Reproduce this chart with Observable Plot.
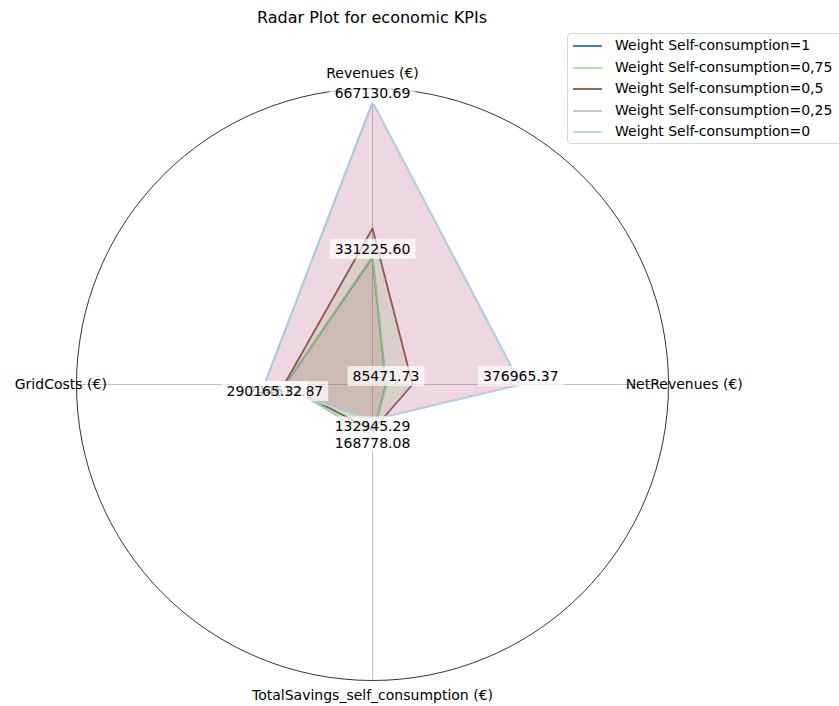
<!DOCTYPE html>
<html>
<head>
<meta charset="utf-8">
<script src="https://cdn.jsdelivr.net/npm/d3@7"></script>
<script src="https://cdn.jsdelivr.net/npm/@observablehq/plot@0.6"></script>
<style>
  body { margin: 0; background: #fff; font-family: "DejaVu Sans", sans-serif; }
  #wrap { position: relative; width: 839px; height: 706px; overflow: hidden; background: #fff; }
  #wrap > svg { position: absolute; left: 0; top: 0; }
  #title { position: absolute; left: 0; width: 744px; top: 8px; text-align: center; font-size: 16px; line-height: 20px; color: #000; }
  #legend { position: absolute; left: 567px; top: 33px; width: 285px; height: 111px; box-sizing: border-box;
            border: 1px solid #d6d6d6; border-radius: 4px; background: rgba(255,255,255,0.8); padding-top: 1px; }
  .row { position: relative; height: 21.5px; font-size: 14px; color: #000; }
  .swatch { position: absolute; left: 5px; top: 9px; }
  .lab { position: absolute; left: 47px; top: 1px; white-space: nowrap; line-height: 18px; }
</style>
</head>
<body>
<div id="wrap">
  <div id="title">Radar Plot for economic KPIs</div>
  <div id="legend"></div>
</div>
<script>
// ---- data ----
const axisNames = ["Revenues (€)", "NetRevenues (€)", "TotalSavings_self_consumption (€)", "GridCosts (€)"];
const seriesNames = [
  "Weight Self-consumption=1",
  "Weight Self-consumption=0,75",
  "Weight Self-consumption=0,5",
  "Weight Self-consumption=0,25",
  "Weight Self-consumption=0"
];
const lineColors = ["#1f77b4", "#90ee90", "#8c564b", "#c0c0c0", "#add8e6"];
const fillColors = ["#1f77b4", "#ff7f0e", "#2ca02c", "#d62728", "#9467bd"];
const revenues    = [331225.60, 333400.00, 393600.00, 667130.69, 667130.69];
const netRevenues = [85471.73,  86400.00,  142900.00, 376965.37, 376965.37];
const savings     = [168778.08, 167500.00, 155800.00, 132945.29, 132945.29];
const gridCosts   = [244612.87, 245100.00, 247300.00, 290165.32, 290165.32];
const table = [revenues, netRevenues, savings, gridCosts];

// ---- layout ----
const W = 839, H = 706, ML = 76, MR = 171, MT = 88, MB = 26;
const R = (W - ML - MR) / 2;

const rows = [];
seriesNames.forEach((s, i) => table.forEach((vals, j) => rows.push({s, i, j, v: vals[i]})));
const all = rows.map(d => d.v);
const lo = d3.min(all), hi = d3.max(all), pad = 0.05 * (hi - lo);
const rad = d3.scaleLinear([lo - pad, hi + pad], [0, 1]);
const ang = j => j * Math.PI / 2;
const px = d => rad(d.v) * Math.sin(ang(d.j));
const py = d => rad(d.v) * Math.cos(ang(d.j));

// min and max annotation per axis
const labels = table.flatMap((vals, j) => [d3.min(vals), d3.max(vals)].map(v => ({j, v})));

const seriesMarks = seriesNames.flatMap((s, i) => {
  const d = rows.filter(r => r.i === i);
  return [
    Plot.line(d, {x: px, y: py, curve: "linear-closed", stroke: lineColors[i], strokeWidth: 1.8}),
    Plot.area(d, {x1: px, y1: py, x2: 0, y2: 0, curve: "linear-closed", fill: fillColors[i], fillOpacity: 0.115})
  ];
});

const labelOpts = (dy) => ({
  x: d => rad(d.v) * Math.sin(ang(d.j)),
  y: d => rad(d.v) * Math.cos(ang(d.j)),
  text: d => d.v.toFixed(2), dy, fontSize: 14, fill: "#000", className: "vlabel"
});

const chart = Plot.plot({
  width: W, height: H,
  marginLeft: ML, marginRight: MR, marginTop: MT, marginBottom: MB,
  x: {domain: [-1, 1], axis: null},
  y: {domain: [-1, 1], axis: null},
  r: {type: "linear", domain: [0, 1], range: [0, R]},
  style: {fontFamily: "DejaVu Sans, sans-serif", fontSize: "14px", background: "transparent", overflow: "visible"},
  marks: [
    Plot.link(axisNames, {x1: 0, y1: 0, x2: (d, j) => Math.sin(ang(j)), y2: (d, j) => Math.cos(ang(j)), stroke: "#b0b0b0", strokeWidth: 0.8}),
    Plot.dot([0], {x: () => 0, y: () => 0, r: () => 1, stroke: "#000", strokeWidth: 0.8, fill: "none"}),
    ...seriesMarks,
    Plot.text(labels.filter(d => d.j < 2), labelOpts(-8)),
    Plot.text(labels.filter(d => d.j >= 2), labelOpts(7)),
    Plot.text(axisNames, {
      x: (d, j) => 1.053 * Math.sin(ang(j)),
      y: (d, j) => 1.05 * Math.cos(ang(j)),
      text: d => d, fontSize: 14, fill: "#000"
    })
  ]
});

const wrap = document.getElementById("wrap");
wrap.insertBefore(chart, wrap.firstChild);

// white translucent boxes behind value labels
chart.querySelectorAll("g.vlabel text").forEach(t => {
  const b = t.getBBox();
  const rect = document.createElementNS("http://www.w3.org/2000/svg", "rect");
  rect.setAttribute("x", b.x - 5);
  rect.setAttribute("y", b.y - 2);
  rect.setAttribute("width", b.width + 10);
  rect.setAttribute("height", b.height + 4);
  rect.setAttribute("fill", "#fff");
  rect.setAttribute("fill-opacity", 0.7);
  const tr = t.getAttribute("transform");
  if (tr) rect.setAttribute("transform", tr);
  t.parentNode.insertBefore(rect, t);
});

// legend
const legend = document.getElementById("legend");
seriesNames.forEach((s, i) => {
  const row = document.createElement("div");
  row.className = "row";
  const sw = d3.create("svg").attr("class", "swatch").attr("width", 30).attr("height", 4);
  sw.append("line").attr("x1", 0).attr("x2", 29).attr("y1", 2).attr("y2", 2)
    .attr("stroke", lineColors[i]).attr("stroke-width", 1.8);
  const lab = document.createElement("div");
  lab.className = "lab";
  lab.textContent = s;
  row.appendChild(sw.node());
  row.appendChild(lab);
  legend.appendChild(row);
});
</script>
</body>
</html>
